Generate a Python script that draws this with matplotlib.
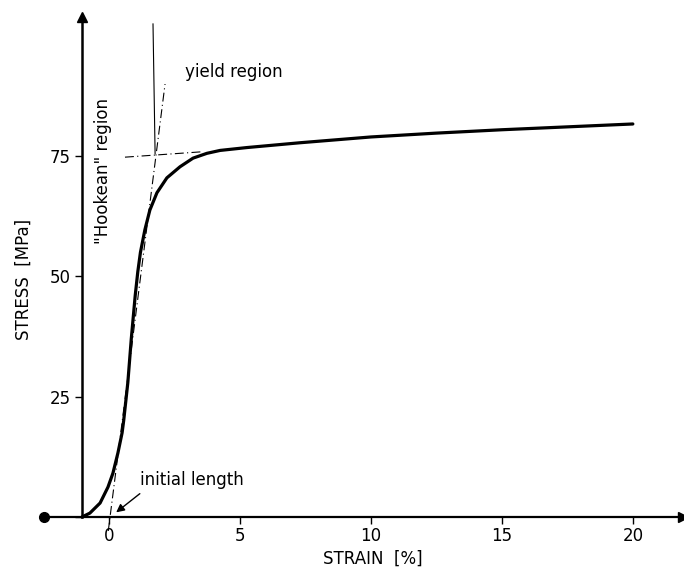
import matplotlib.pyplot as plt

# stress-strain curve
strain = [-1.03, -0.73, -0.34, -0.04, 0.15, 0.34, 0.50, 0.56, 0.64, 0.72, 0.85, 1.0,
          1.1, 1.2, 1.37, 1.56, 1.83, 2.21, 2.71, 3.21, 3.74, 4.24, 5.27, 7.3,
          10, 12.5, 15, 17.5, 20]
stress = [0, 0.8, 2.9, 6.2, 9.1, 13.3, 17.5, 20, 24, 28, 37, 46,
          51, 55, 59.7, 63.8, 67.4, 70.5, 72.8, 74.6, 75.6, 76.2, 76.8, 77.8,
          79, 79.8, 80.5, 81.1, 81.7]

# construction lines
hooke_x = [-0.03, 2.14]
hooke_y = [-3, 90]
plateau_x = [0.61, 3.5]
plateau_y = [74.8, 75.9]
yield_x = [1.68, 1.76]
yield_y = [102.5, 75.5]

xticks = [0, 5, 10, 15, 20]
yticks = [0, 25, 50, 75]
ytick_labels = ["", "25", "50", "75"]

plt.rcParams['font.family'] = 'DejaVu Sans'
fig = plt.figure(figsize=(6.84, 5.67), dpi=100)
ax = fig.add_axes([0.0598, 0.0628, 0.942, 0.9247])
ax.set_xlim(-2.6, 22.0)
ax.set_ylim(-3, 106)

for s in ['top', 'right']:
    ax.spines[s].set_visible(False)
ax.spines['bottom'].set_position(('data', 0))
ax.spines['left'].set_position(('data', -1.05))
ax.spines['bottom'].set_bounds(-2.5, 21.9)
ax.spines['left'].set_bounds(0, 104)
ax.spines['bottom'].set_linewidth(1.6)
ax.spines['left'].set_linewidth(1.8)

ax.set_xticks(xticks)
ax.set_yticks(yticks)
ax.set_yticklabels(ytick_labels)
ax.tick_params(axis='both', direction='out', length=5, width=1, labelsize=12, pad=3)
ax.tick_params(axis='x', pad=2)

# axis ends
ax.plot(-2.5, 0, 'o', color='black', ms=7, clip_on=False)
ax.plot(21.9, 0, '>', color='black', ms=7, clip_on=False)
ax.plot(-1.05, 104, '^', color='black', ms=7, clip_on=False)

ax.plot(hooke_x, hooke_y, color='black', lw=0.8, dashes=(8, 3, 1, 3))
ax.plot(plateau_x, plateau_y, color='black', lw=0.8, dashes=(8, 3, 1, 3))
ax.plot(yield_x, yield_y, color='black', lw=0.8)
ax.plot(strain, stress, color='black', lw=2.3, solid_capstyle='round', solid_joinstyle='round')

ax.text(2.9, 92.5, "yield region", fontsize=12, va='center', ha='left')
ax.text(-0.23, 72, '"Hookean" region', fontsize=12, rotation=90, va='center', ha='center')
ax.text(1.18, 7.7, "initial length", fontsize=12, va='center', ha='left')
ax.annotate("", xy=(0.19, 0.6), xytext=(1.26, 5.2),
            arrowprops=dict(arrowstyle='-|>', color='black', lw=1, mutation_scale=12))

fig.text(24 / 684, 1 - 279 / 567, "STRESS  [MPa]", fontsize=12, rotation=90, va='center', ha='center')
fig.text(373 / 684, 1 - 559 / 567, "STRAIN  [%]", fontsize=12, va='center', ha='center')

fig.savefig("out.png", dpi=100)
